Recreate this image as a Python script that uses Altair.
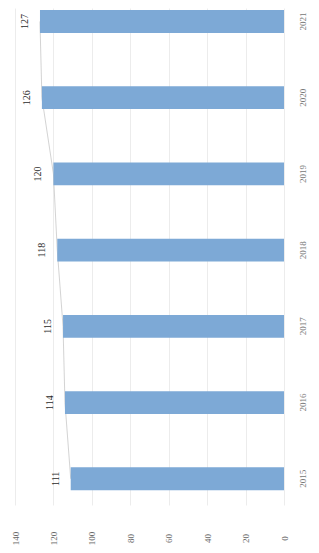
import altair as alt
import pandas as pd

years = ["2015", "2016", "2017", "2018", "2019", "2020", "2021"]
values = [111, 114, 115, 118, 120, 126, 127]
ticks = [0, 20, 40, 60, 80, 100, 120, 140]

df = pd.DataFrame({"year": years, "value": values})

xs = alt.Scale(domain=[0, 140], reverse=True, nice=False)
ys = alt.Scale(paddingInner=0.7, paddingOuter=0.11, align=0.12)

xaxis = alt.Axis(values=ticks, labelAngle=270, labelAlign="center",
                 labelBaseline="middle", labelPadding=33, ticks=False, tickSize=0,
                 labelOverlap=False, labelFlush=False, labelBound=False,
                 domain=False, grid=True, gridColor="#ececec",
                 labelColor="#666666", labelFontSize=9, labelFont="Liberation Serif")
yaxis = alt.Axis(orient="right", labelAngle=270, labelAlign="center",
                 labelBaseline="middle", labelPadding=18, ticks=False, tickSize=0,
                 labelOverlap=False,
                 domain=False, labelColor="#777777", labelFontSize=9,
                 labelFont="Liberation Serif")

X = alt.X("value:Q", scale=xs, title=None, axis=xaxis)
Y = alt.Y("year:O", sort="descending", scale=ys, title=None, axis=yaxis)

base = alt.Chart(df)

bars = base.mark_bar(color="#7DA9D6").encode(x=X, y=Y)

line = base.mark_line(color="#c8c8c8", strokeWidth=0.8).encode(x=X, y=Y)

labels = base.mark_text(angle=270, align="center", baseline="middle", dy=-15,
                        fontSize=10, color="#2a2a2a", font="Liberation Serif").encode(
    x=X, y=Y, text="value:Q",
)

chart = alt.layer(line, bars, labels).properties(
    width=269, height=497,
    autosize=alt.AutoSizeParams(type="none"),
    padding={"left": 7, "right": 27, "top": 0, "bottom": 45},
).configure_view(stroke=None)

chart.save("out.html", embed_options={"renderer": "svg", "actions": False})
